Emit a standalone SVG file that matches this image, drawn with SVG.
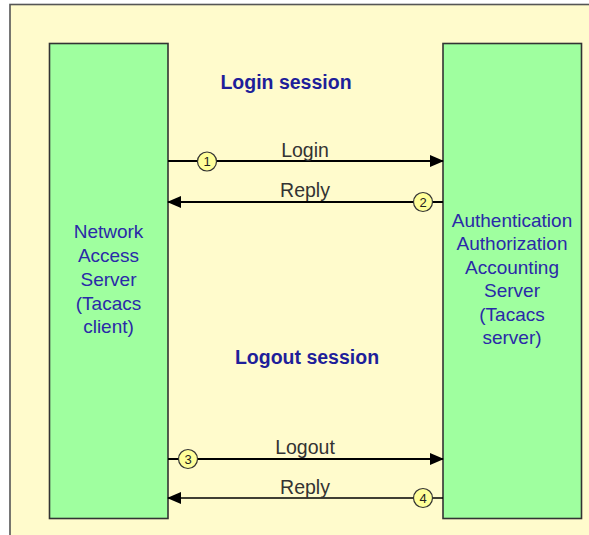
<svg xmlns="http://www.w3.org/2000/svg" width="589" height="535" viewBox="0 0 589 535">
<defs>
<marker id="ah" markerWidth="14" markerHeight="12" refX="13" refY="6" orient="auto" markerUnits="userSpaceOnUse">
<path d="M0,0 L14,6 L0,12 Z" fill="#000"/>
</marker>
<style>
.box{fill:#9fff9f;stroke:#333;stroke-width:1.6}
.nt{font-family:"Liberation Sans",Arial,sans-serif;font-size:19px;fill:#2a2aa8;text-anchor:middle}
.ttl{font-family:"Liberation Sans",Arial,sans-serif;font-size:19.5px;font-weight:bold;fill:#1e1e9a;text-anchor:middle}
.lbl{font-family:"Liberation Sans",Arial,sans-serif;font-size:19.5px;fill:#333;text-anchor:middle}
.ln{stroke:#000;stroke-width:2;fill:none}
.bub{fill:#ffff99;stroke:#333;stroke-width:1.2}
.num{font-family:"Liberation Sans",Arial,sans-serif;font-size:13px;fill:#222;text-anchor:middle}
</style>
</defs>
<rect x="0" y="0" width="589" height="535" fill="#fff"/>
<rect x="10" y="4.5" width="600" height="560" fill="#fffbcc" stroke="#555" stroke-width="1.6"/>
<text class="ttl" x="286" y="89">Login session</text>
<text class="ttl" x="307" y="364">Logout session</text>
<g id="nas">
<rect class="box" x="49.5" y="43.5" width="118.5" height="475"/>
<text class="nt"><tspan x="108.5" y="238">Network</tspan><tspan x="108.5" y="262">Access</tspan><tspan x="108.5" y="286">Server</tspan><tspan x="108.5" y="310">(Tacacs</tspan><tspan x="108.5" y="333">client)</tspan></text>
</g>
<g id="aaa">
<rect class="box" x="443" y="43.5" width="138.5" height="475"/>
<text class="nt"><tspan x="512" y="227">Authentication</tspan><tspan x="512" y="250">Authorization</tspan><tspan x="512" y="274">Accounting</tspan><tspan x="512" y="297">Server</tspan><tspan x="512" y="321">(Tacacs</tspan><tspan x="512" y="344">server)</tspan></text>
</g>
<g id="connectors">
<line class="ln" x1="168" y1="161" x2="443" y2="161" marker-end="url(#ah)"/>
<text class="lbl" x="305" y="157">Login</text>
<circle class="bub" cx="207" cy="161.5" r="9.5"/>
<text class="num" x="207" y="166">1</text>
<line class="ln" x1="443" y1="202" x2="168" y2="202" marker-end="url(#ah)"/>
<text class="lbl" x="305" y="197">Reply</text>
<circle class="bub" cx="423" cy="202" r="9.5"/>
<text class="num" x="423" y="206.5">2</text>
<line class="ln" x1="168" y1="459" x2="443" y2="459" marker-end="url(#ah)"/>
<text class="lbl" x="305" y="454">Logout</text>
<circle class="bub" cx="188" cy="459" r="9.5"/>
<text class="num" x="188" y="463.5">3</text>
<line class="ln" style="stroke-width:1.3" x1="443" y1="498" x2="168" y2="498" marker-end="url(#ah)"/>
<text class="lbl" x="305" y="494">Reply</text>
<circle class="bub" cx="423" cy="498" r="9.5"/>
<text class="num" x="423" y="502.5">4</text>
</g>
</svg>
